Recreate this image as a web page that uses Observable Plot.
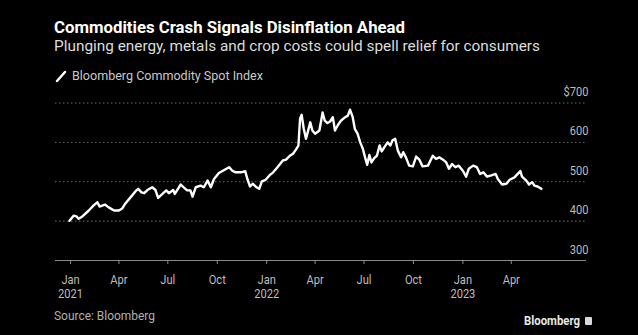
<!DOCTYPE html>
<html><head><meta charset="utf-8">
<script src="https://cdn.jsdelivr.net/npm/d3@7"></script>
<script src="https://cdn.jsdelivr.net/npm/@observablehq/plot@0.6"></script>
<style>
html,body{margin:0;padding:0;background:#000;}
body{width:638px;height:335px;position:relative;overflow:hidden;font-family:Roboto,"Noto Sans",sans-serif;}
.t{position:absolute;white-space:nowrap;transform-origin:0 0;line-height:1;}
#title{left:54px;top:19.5px;font-size:16px;font-weight:700;color:#fff;}
#subtitle{left:54px;top:39px;font-size:15.5px;color:#dcdcdc;}
#legend{left:72px;top:69px;font-size:13px;color:#c8c8c8;}
#swatch{position:absolute;left:55px;top:70px;}
#source{left:54px;top:309.5px;font-size:12.5px;color:#b0b0b0;}
#logo{left:524px;top:314.5px;font-size:12.5px;font-weight:700;color:#e8e8e8;}
#logoicon{position:absolute;left:585px;top:317px;width:7px;height:8px;background:#d8d8d8;border-radius:1px;}
#chart{position:absolute;left:0;top:84px;}
</style></head>
<body>
<div id="title" class="t">Commodities Crash Signals Disinflation Ahead</div>
<div id="subtitle" class="t">Plunging energy, metals and crop costs could spell relief for consumers</div>
<svg id="swatch" width="12" height="13"><line x1="2" y1="11" x2="10" y2="2" stroke="#fff" stroke-width="2.5" stroke-linecap="round"/></svg>
<div id="legend" class="t">Bloomberg Commodity Spot Index</div>
<div id="chart"></div>
<div id="source" class="t">Source: Bloomberg</div>
<div id="logo" class="t">Bloomberg</div>
<div id="logoicon"></div>
<script>
const dates = ["2020-12-30","2021-01-07","2021-01-12","2021-01-16","2021-01-23","2021-02-04","2021-02-13","2021-02-20","2021-02-24","2021-03-06","2021-03-13","2021-03-23","2021-04-01","2021-04-07","2021-04-13","2021-04-23","2021-05-02","2021-05-07","2021-05-13","2021-05-18","2021-05-24","2021-06-02","2021-06-08","2021-06-13","2021-06-21","2021-06-28","2021-07-03","2021-07-11","2021-07-14","2021-07-25","2021-07-31","2021-08-06","2021-08-12","2021-08-16","2021-08-22","2021-08-31","2021-09-06","2021-09-13","2021-09-19","2021-09-25","2021-10-04","2021-10-14","2021-10-23","2021-10-29","2021-11-04","2021-11-14","2021-11-22","2021-11-26","2021-12-01","2021-12-06","2021-12-13","2021-12-18","2021-12-23","2021-12-30","2022-01-06","2022-01-13","2022-01-21","2022-01-31","2022-02-06","2022-02-13","2022-02-19","2022-02-24","2022-03-01","2022-03-04","2022-03-07","2022-03-11","2022-03-15","2022-03-18","2022-03-23","2022-03-27","2022-04-01","2022-04-09","2022-04-15","2022-04-19","2022-04-24","2022-04-29","2022-05-04","2022-05-08","2022-05-13","2022-05-19","2022-05-27","2022-06-01","2022-06-05","2022-06-10","2022-06-14","2022-06-19","2022-06-24","2022-06-29","2022-07-03","2022-07-07","2022-07-11","2022-07-15","2022-07-20","2022-07-25","2022-07-30","2022-08-03","2022-08-08","2022-08-14","2022-08-19","2022-08-23","2022-08-28","2022-09-02","2022-09-08","2022-09-12","2022-09-17","2022-09-23","2022-09-30","2022-10-06","2022-10-12","2022-10-18","2022-10-28","2022-11-06","2022-11-12","2022-11-18","2022-11-25","2022-12-01","2022-12-06","2022-12-12","2022-12-18","2022-12-24","2023-01-01","2023-01-07","2023-01-12","2023-01-20","2023-01-27","2023-02-02","2023-02-08","2023-02-15","2023-02-23","2023-03-03","2023-03-07","2023-03-15","2023-03-23","2023-03-29","2023-04-07","2023-04-13","2023-04-18","2023-04-21","2023-04-29","2023-05-04","2023-05-10","2023-05-14","2023-05-20","2023-05-27"];
const values = [401,414,412,406,412,427,440,448,437,442,435,427,427,432,445,461,476,482,473,471,479,486,479,459,469,478,471,479,469,493,485,478,478,462,486,490,486,503,486,507,522,530,537,528,524,524,527,507,488,495,486,482,501,505,516,524,537,554,556,566,571,581,592,660,670,634,609,624,651,630,622,630,676,655,649,653,664,630,643,655,664,668,683,664,634,622,600,583,562,543,568,549,560,566,592,577,588,600,592,605,609,579,562,575,562,541,539,564,556,539,541,566,558,562,556,549,533,545,537,541,528,513,533,541,537,520,524,513,516,520,507,493,495,505,511,520,527,513,503,493,499,490,488,482];
const xTicks = ["2021-01-01","2021-04-01","2021-07-01","2021-10-01","2022-01-01","2022-04-01","2022-07-01","2022-10-01","2023-01-01","2023-04-01"];
const xTickLabels = ["Jan\n2021","Apr","Jul","Oct","Jan\n2022","Apr","Jul","Oct","Jan\n2023","Apr"];
const yTicks = [300,400,500,600,700];
const yTickLabels = ["300","400","500","600","$700"];
const gridValues = [400,500,600,700];
const baseline = 300;

const data = dates.map((d,i)=>({date:new Date(d), value:values[i]}));
const xTickDates = xTicks.map(d=>new Date(d));

const chart = Plot.plot({
  width:638, height:221,
  marginTop:18.5, marginBottom:45, marginLeft:55, marginRight:52,
  style:{background:"#000", color:"#bdbdbd", fontFamily:"Roboto, 'Noto Sans', sans-serif", fontSize:"12.5px"},
  x:{type:"utc", domain:[new Date("2020-12-04"), new Date("2023-08-19")]},
  y:{domain:[300,700]},
  marks:[
    Plot.gridY(gridValues, {stroke:"#6a6a6a", strokeOpacity:1, strokeDasharray:"1.5,2.5"}),
    Plot.ruleY([baseline], {stroke:"#8a8a8a", strokeWidth:1}),
    Plot.axisX(xTickDates, {label:null, tickSize:4, tickPadding:9, stroke:"#8a8a8a", fill:"#bdbdbd", lineHeight:1.15,
      tickFormat:d=>xTickLabels[xTickDates.findIndex(t=>+t===+d)]}),
    Plot.axisY(yTicks, {label:null, anchor:"right", tickSize:0, tickPadding:0, dx:2, dy:-11, textAnchor:"end", fill:"#bdbdbd",
      tickFormat:d=>yTickLabels[yTicks.indexOf(d)]}),
    Plot.lineY(data, {x:"date", y:"value", stroke:"#fff", strokeWidth:2.4, strokeLinejoin:"round"})
  ]
});
document.getElementById("chart").appendChild(chart);

function fit(id, target){
  const el=document.getElementById(id);
  const w=el.getBoundingClientRect().width;
  el.style.transform=`scaleX(${target/w})`;
}
fit("title",351); fit("subtitle",486); fit("legend",191); fit("source",101); fit("logo",56);

function condense(sel, refText, target){
  const texts=[...chart.querySelectorAll(sel)];
  const ref=texts.find(t=>t.textContent.includes(refText));
  if(!ref) return;
  const s=target/ref.getBBox().width;
  for(const t of texts){
    const tr=t.getAttribute("transform")||"";
    t.setAttribute("transform", tr+` scale(${s},1)`);
  }
}
condense("g[aria-label='x-axis tick label'] text","2022",25);
condense("g[aria-label='y-axis tick label'] text","600",18.7);
</script>
</body></html>
